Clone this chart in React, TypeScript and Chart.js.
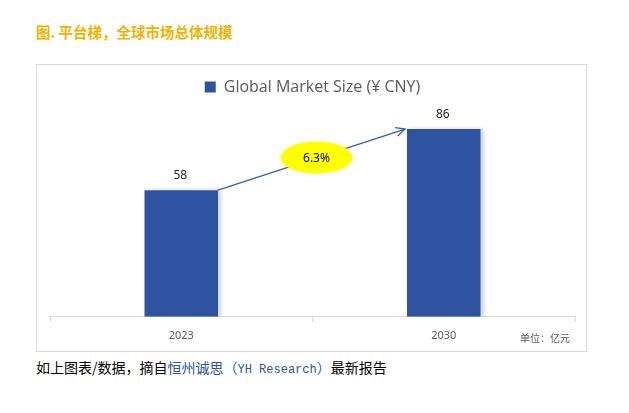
import React, { useEffect, useRef } from "react";
import { Chart, registerables } from "chart.js";

Chart.register(...registerables);

const categories = ["2023", "2030"];
const marketSize = [58, 86];
const seriesLabel = "Global Market Size (¥ CNY)";
const growthLabel = "6.3%";
const titleText = "图. 平台梯，全球市场总体规模";
const unitText = "单位：亿元";

const BAR_COLOR = "#2E53A1";

const arrowPlugin = {
  id: "arrowPlugin",
  beforeDatasetsDraw(chart: any) {
    const ctx = chart.ctx;
    ctx.save();
    ctx.shadowColor = "rgba(0,0,0,0.18)";
    ctx.shadowOffsetX = 3;
    ctx.shadowOffsetY = 0;
    ctx.shadowBlur = 4;
  },
  afterDatasetsDraw(chart: any) {
    const ctx = chart.ctx;
    ctx.restore();
    const meta = chart.getDatasetMeta(0);
    const b0 = meta.data[0];
    const b1 = meta.data[1];
    if (!b0 || !b1) return;
    const x0 = b0.x + b0.width / 2;
    const y0 = b0.y;
    const x1 = b1.x - b1.width / 2 - 2;
    const y1 = b1.y;
    ctx.save();
    ctx.strokeStyle = "#3A5DAE";
    ctx.lineWidth = 1.3;
    ctx.beginPath();
    ctx.moveTo(x0, y0);
    ctx.lineTo(x1, y1);
    ctx.stroke();
    const ang = Math.atan2(y1 - y0, x1 - x0);
    const len = 10;
    ctx.beginPath();
    ctx.moveTo(x1 - len * Math.cos(ang - 0.45), y1 - len * Math.sin(ang - 0.45));
    ctx.lineTo(x1, y1);
    ctx.lineTo(x1 - len * Math.cos(ang + 0.45), y1 - len * Math.sin(ang + 0.45));
    ctx.stroke();
    // ellipse
    const cx = (x0 + x1) / 2 + 5;
    const cy = (y0 + y1) / 2 - 2;
    ctx.fillStyle = "#FFFF00";
    ctx.beginPath();
    ctx.ellipse(cx, cy, 36, 16, 0, 0, Math.PI * 2);
    ctx.fill();
    ctx.fillStyle = "#000";
    ctx.font = "12px 'Noto Sans', sans-serif";
    ctx.textAlign = "center";
    ctx.textBaseline = "middle";
    ctx.fillText(growthLabel, cx, cy + 1);
    // value labels
    ctx.fillStyle = "#222";
    ctx.font = "12px 'Noto Sans', sans-serif";
    ctx.textBaseline = "alphabetic";
    meta.data.forEach((bar: any, i: number) => {
      ctx.fillText(String(marketSize[i]), bar.x - 1, bar.y - 11);
    });
    ctx.restore();
  },
};

export default function App() {
  const ref = useRef<HTMLCanvasElement | null>(null);
  useEffect(() => {
    if (!ref.current) return;
    const chart = new Chart(ref.current, {
      type: "bar",
      data: {
        labels: categories,
        datasets: [
          {
            label: seriesLabel,
            data: marketSize,
            backgroundColor: BAR_COLOR,
            borderWidth: 0,
            barPercentage: 0.56,
            categoryPercentage: 0.5,
          },
        ],
      },
      options: {
        responsive: false,
        animation: false,
        layout: { padding: { top: 8, left: 13, right: 11, bottom: 2 } },
        plugins: {
          tooltip: { enabled: false },
          legend: {
            display: true,
            position: "top",
            labels: {
              boxWidth: 11,
              boxHeight: 11,
              padding: 6,
              color: "#595959",
              font: { size: 16, family: "'Open Sans', 'Noto Sans', sans-serif" },
            },
          },
        },
        scales: {
          x: {
            grid: {
              display: true,
              drawOnChartArea: false,
              drawTicks: true,
              tickLength: 5,
              color: "#d9d9d9",
              offset: true,
            },
            border: { display: true, color: "#d9d9d9" },
            ticks: {
              color: "#595959",
              padding: 7,
              font: { size: 11, family: "'Noto Sans', sans-serif" },
            },
          },
          y: {
            display: false,
            min: 0,
            max: 97,
          },
        },
      },
      plugins: [arrowPlugin],
    });
    return () => chart.destroy();
  }, []);

  return (
    <div style={{ position: "relative", width: 613, height: 390, fontFamily: "'Noto Sans CJK SC', sans-serif" }}>
      <div
        style={{
          position: "absolute",
          left: 28,
          top: 14,
          fontSize: 14.5,
          fontWeight: "bold",
          color: "#F2B300",
          whiteSpace: "nowrap",
          lineHeight: "20px",
        }}
      >
        {titleText}
      </div>
      <div
        style={{
          position: "absolute",
          left: 28,
          top: 56,
          width: 549,
          height: 286,
          border: "1px solid #d9d9d9",
        }}
      >
        <canvas ref={ref} width={549} height={286} style={{ display: "block" }} />
        <div
          style={{
            position: "absolute",
            left: 483,
            top: 266,
            fontSize: 10,
            color: "#595959",
            whiteSpace: "nowrap",
            lineHeight: "14px",
          }}
        >
          {unitText}
        </div>
      </div>
      <div
        style={{
          position: "absolute",
          left: 28,
          top: 349,
          fontSize: 14,
          color: "#000",
          whiteSpace: "nowrap",
          lineHeight: "20px",
        }}
      >
        如上图表/数据，摘自
        <span style={{ color: "#2E53A1" }}>
          恒州诚思（<span style={{ fontFamily: "'Liberation Mono', monospace", fontSize: 12 }}>YH Research</span>）
        </span>
        最新报告
      </div>
    </div>
  );
}
